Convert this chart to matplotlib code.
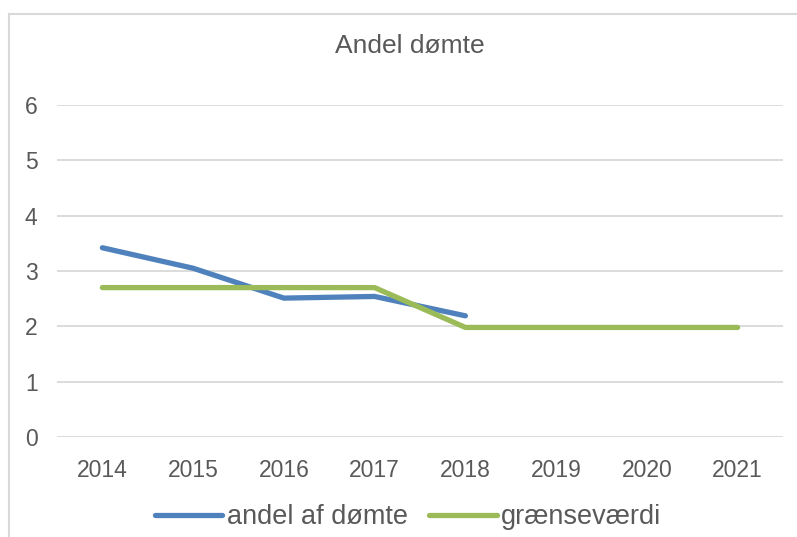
import matplotlib
matplotlib.use("Agg")
import matplotlib.pyplot as plt
from matplotlib.lines import Line2D

# data
years = ['2014', '2015', '2016', '2017', '2018', '2019', '2020', '2021']
andel = [3.42, 3.05, 2.51, 2.54, 2.19]
graense = [2.7, 2.7, 2.7, 2.7, 1.98, 1.98, 1.98, 1.98]

txt = '#595959'
grid = '#D9D9D9'
plt.rcParams['font.family'] = ['Liberation Sans', 'DejaVu Sans']

fig = plt.figure(figsize=(7.97, 5.37), dpi=100)
ax = fig.add_axes([57 / 797, 1 - 437 / 537, (783 - 57) / 797, (437 - 105) / 537])

x = list(range(len(years)))
ax.plot(x[:len(andel)], andel, color='#4F81BD', lw=3.8, solid_capstyle='round',
        solid_joinstyle='round', label='andel af dømte', zorder=3)
ax.plot(x, graense, color='#9BBB59', lw=3.8, solid_capstyle='round',
        solid_joinstyle='round', label='grænseværdi', zorder=4)

ax.set_xlim(-0.5, len(years) - 0.5)
ax.set_ylim(0, 6)
ax.set_yticks(range(0, 7))
ax.set_xticks(x)
ax.set_xticklabels(years)
ax.yaxis.grid(True, color=grid, lw=1.3)
ax.set_axisbelow(True)
for s in ax.spines.values():
    s.set_visible(False)
ax.tick_params(axis='both', length=0, colors=txt, labelsize=16.5)
ax.tick_params(axis='y', pad=14)
ax.tick_params(axis='x', pad=16)

fig.text(410 / 797, 1 - 46 / 537, 'Andel dømte', ha='center', va='center',
         color=txt, fontsize=19)

# chart-area border (left and top only visible)
fig.add_artist(Line2D([9 / 797, 9 / 797], [0, 1 - 14 / 537], color=grid, lw=1.5,
                      transform=fig.transFigure))
fig.add_artist(Line2D([9 / 797, 1], [1 - 14 / 537, 1 - 14 / 537], color=grid, lw=1.5,
                      transform=fig.transFigure))

leg = fig.legend(loc='center', bbox_to_anchor=(408 / 797, 1 - 517 / 537), ncol=2,
                 frameon=False, fontsize=19.5, handlelength=2.5, handletextpad=0.15,
                 columnspacing=0.8, labelcolor=txt)

fig.savefig('out.png', dpi=100)
